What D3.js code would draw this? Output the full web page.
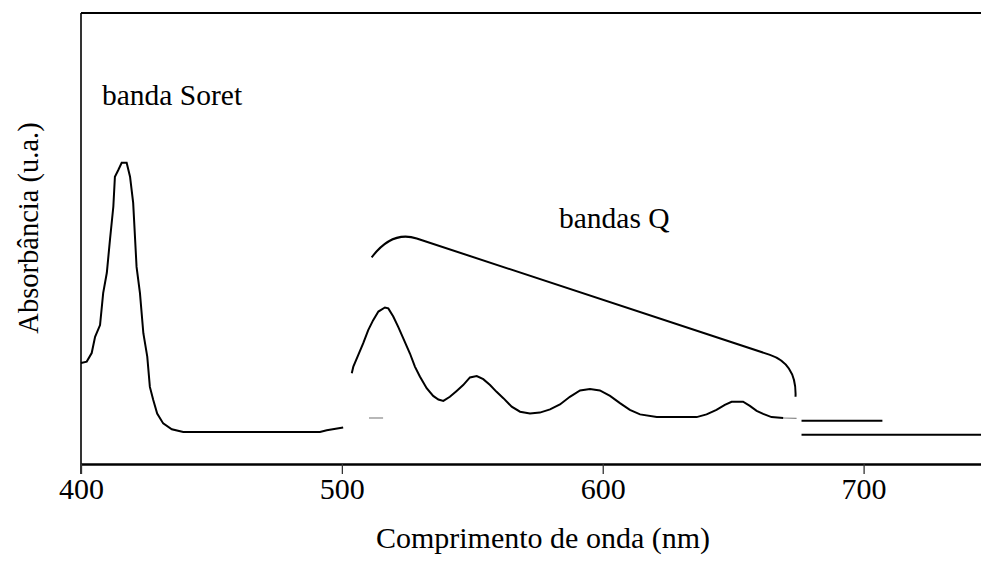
<!DOCTYPE html>
<html>
<head>
<meta charset="utf-8">
<script src="https://cdn.jsdelivr.net/npm/d3@7"></script>
<style>
  html, body { margin: 0; padding: 0; background: #fff; }
  svg { display: block; }
  text { font-family: "Liberation Serif", "Times New Roman", serif; fill: #000; }
</style>
</head>
<body>
<svg id="chart" width="981" height="569"></svg>
<script>
// UV-Vis absorption spectrum (arbitrary units) — wavelength in nm
const xTicks = [400, 500, 600, 700];

// Soret band region
const soretNm = [400.0, 402.2, 404.1, 405.4, 407.3, 408.5, 409.9, 411.1, 412.4, 413.0, 414.3, 415.6, 417.5, 418.8, 420.0, 421.3, 422.6, 423.9, 425.4, 426.4, 427.7, 429.2, 431.5, 434.8, 439.2, 491.6, 494.2, 500.5];
const soretAbs = [0.224, 0.227, 0.246, 0.282, 0.308, 0.379, 0.424, 0.497, 0.571, 0.637, 0.652, 0.668, 0.668, 0.637, 0.579, 0.437, 0.379, 0.290, 0.238, 0.171, 0.142, 0.112, 0.090, 0.077, 0.071, 0.071, 0.075, 0.081];

// Q band region
const qNm = [503.8, 504.4, 506.3, 508.2, 510.1, 512.0, 514.0, 516.5, 517.8, 519.7, 521.6, 523.5, 526.1, 528.0, 529.9, 532.5, 535.0, 537.0, 538.9, 541.4, 544.0, 546.5, 549.1, 551.7, 554.2, 556.8, 559.3, 561.9, 565.1, 568.3, 572.1, 575.9, 579.8, 583.6, 587.4, 591.3, 595.1, 598.9, 602.8, 606.6, 610.4, 614.3, 620.7, 636.0, 639.8, 643.6, 646.8, 649.4, 653.8, 656.4, 659.0, 661.5, 664.7, 669.2];
const qAbs = [0.201, 0.216, 0.242, 0.268, 0.297, 0.319, 0.338, 0.347, 0.345, 0.327, 0.304, 0.279, 0.245, 0.216, 0.194, 0.168, 0.151, 0.143, 0.140, 0.149, 0.162, 0.175, 0.192, 0.195, 0.188, 0.175, 0.160, 0.146, 0.127, 0.116, 0.112, 0.114, 0.121, 0.132, 0.149, 0.163, 0.166, 0.163, 0.151, 0.135, 0.120, 0.110, 0.104, 0.104, 0.110, 0.120, 0.131, 0.138, 0.138, 0.129, 0.118, 0.111, 0.104, 0.102];

// faint fragments of the trace
const fragNm = [[510.4, 515.8], [669.2, 674.3]];
const fragAbs = [[0.102, 0.102], [0.102, 0.101]];

// flat trace segments at the red end
const tailNm = [[676.2, 707.2], [676.2, 745.0]];
const tailAbs = [[0.096, 0.096], [0.065, 0.065]];

// bracket grouping the Q bands: start, control, join, line end, control, end
const bracketNm = [511.4, 519.2, 528.7, 664.1, 674.4, 673.9];
const bracketAbs = [0.458, 0.518, 0.500, 0.242, 0.222, 0.149];

const svg = d3.select("#chart");
const plotLeft = 81, plotRight = 981, plotTop = 13, plotBottom = 464;

const x = d3.scaleLinear().domain([400, 745]).range([plotLeft, plotRight]);
const y = d3.scaleLinear().domain([0, 1]).range([plotBottom, plotTop]);

// frame: top and left edges
svg.append("line")
  .attr("x1", plotLeft).attr("x2", plotRight).attr("y1", plotTop).attr("y2", plotTop)
  .attr("stroke", "#000").attr("stroke-width", 2);
svg.append("line")
  .attr("x1", plotLeft).attr("x2", plotLeft).attr("y1", plotTop).attr("y2", plotBottom + 10)
  .attr("stroke", "#000").attr("stroke-width", 1.6);

// x axis
const xAxis = d3.axisBottom(x).tickValues(xTicks).tickSize(10).tickSizeOuter(0).tickPadding(4);
const gx = svg.append("g").attr("transform", `translate(0,${plotBottom})`).call(xAxis);
gx.select(".domain").attr("stroke", "#000").attr("stroke-width", 2.5);
gx.selectAll(".tick line").attr("stroke", "#333").attr("stroke-width", 1.3);
gx.selectAll(".tick text")
  .attr("font-family", "'Liberation Serif', 'Times New Roman', serif")
  .attr("font-size", 30).attr("fill", "#000");

// axis titles
svg.append("text")
  .attr("x", 543).attr("y", 548)
  .attr("text-anchor", "middle").attr("font-size", 30)
  .text("Comprimento de onda (nm)");
svg.append("text")
  .attr("transform", "translate(38,228) rotate(-90)")
  .attr("text-anchor", "middle").attr("font-size", 28.5)
  .text("Absorbância (u.a.)");

// spectrum
const line = d3.line().x(d => x(d[0])).y(d => y(d[1]));
const zip = (a, b) => a.map((v, i) => [v, b[i]]);

svg.append("path")
  .datum(zip(soretNm, soretAbs))
  .attr("d", line).attr("fill", "none").attr("stroke", "#000").attr("stroke-width", 2);
svg.append("path")
  .datum(zip(qNm, qAbs))
  .attr("d", line).attr("fill", "none").attr("stroke", "#000").attr("stroke-width", 2);

fragNm.forEach((nm, i) => {
  svg.append("path")
    .datum(zip(nm, fragAbs[i]))
    .attr("d", line).attr("fill", "none").attr("stroke", "#888").attr("stroke-width", 1.2);
});
tailNm.forEach((nm, i) => {
  svg.append("path")
    .datum(zip(nm, tailAbs[i]))
    .attr("d", line).attr("fill", "none").attr("stroke", "#000").attr("stroke-width", 2);
});

// bracket over the Q bands
const bp = bracketNm.map((v, i) => [x(v), y(bracketAbs[i])]);
const bracket = d3.path();
bracket.moveTo(bp[0][0], bp[0][1]);
bracket.quadraticCurveTo(bp[1][0], bp[1][1], bp[2][0], bp[2][1]);
bracket.lineTo(bp[3][0], bp[3][1]);
bracket.quadraticCurveTo(bp[4][0], bp[4][1], bp[5][0], bp[5][1]);
svg.append("path")
  .attr("d", bracket.toString())
  .attr("fill", "none").attr("stroke", "#000").attr("stroke-width", 2);

// band labels
svg.append("text").attr("x", 102).attr("y", 105).attr("font-size", 29.5).text("banda Soret");
svg.append("text").attr("x", 559).attr("y", 228).attr("font-size", 29.5).text("bandas Q");
</script>
</body>
</html>
